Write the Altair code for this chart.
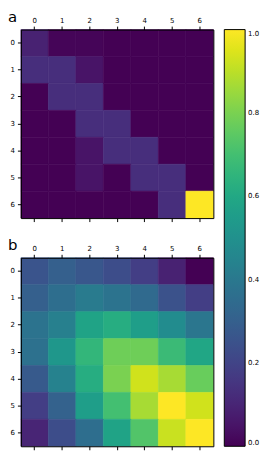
import altair as alt
import pandas as pd

rows = [0, 1, 2, 3, 4, 5, 6]
cols = [0, 1, 2, 3, 4, 5, 6]
colorbar_ticks = [0.0, 0.2, 0.4, 0.6, 0.8, 1.0]

panel_a = [
    [0.09, 0.01, 0.01, 0.00, 0.00, 0.00, 0.00],
    [0.13, 0.13, 0.05, 0.00, 0.00, 0.00, 0.00],
    [0.00, 0.13, 0.13, 0.00, 0.00, 0.00, 0.00],
    [0.00, 0.00, 0.13, 0.13, 0.00, 0.00, 0.00],
    [0.00, 0.00, 0.05, 0.13, 0.13, 0.00, 0.00],
    [0.00, 0.00, 0.05, 0.00, 0.13, 0.13, 0.00],
    [0.00, 0.00, 0.00, 0.00, 0.00, 0.13, 1.00],
]

panel_b = [
    [0.26, 0.30, 0.27, 0.23, 0.18, 0.09, 0.00],
    [0.30, 0.36, 0.41, 0.38, 0.34, 0.25, 0.18],
    [0.38, 0.43, 0.58, 0.62, 0.56, 0.48, 0.39],
    [0.37, 0.53, 0.66, 0.78, 0.78, 0.68, 0.59],
    [0.28, 0.44, 0.62, 0.80, 0.93, 0.87, 0.77],
    [0.18, 0.31, 0.56, 0.70, 0.87, 1.00, 0.93],
    [0.10, 0.23, 0.36, 0.58, 0.73, 0.92, 1.00],
]


def to_long(matrix):
    recs = []
    for r in rows:
        for c in cols:
            recs.append({"row": r, "col": c, "value": matrix[r][c]})
    return pd.DataFrame(recs)


FONT = "DejaVu Sans"
W, H = 194, 190


def heat(matrix, label):
    df = to_long(matrix)
    base = alt.Chart(df)
    main = base.mark_rect(strokeWidth=0.6).encode(
        x=alt.X("col:O", title=None,
                axis=alt.Axis(orient="top", labelAngle=0, zindex=1)),
        y=alt.Y("row:O", title=None,
                axis=alt.Axis(orient="left", zindex=1)),
        color=alt.Color(
            "value:Q", scale=alt.Scale(scheme="viridis", domain=[0, 1]),
            legend=alt.Legend(
                title=None, orient="none", legendX=205, legendY=0,
                direction="vertical", gradientLength=420, gradientThickness=21,
                gradientStrokeColor="black", gradientStrokeWidth=1,
                values=colorbar_ticks, format=".1f", labelFontSize=7,
                labelFont=FONT, labelColor="black", labelOffset=3,
                labelBaseline="middle", labelOverlap=False, padding=0,
            ),
        ),
        stroke=alt.Stroke("value:Q", scale=alt.Scale(scheme="viridis", domain=[0, 1]),
                          legend=None),
    )
    frame = base.mark_rect(opacity=0).encode(
        x=alt.X("col:O", title=None,
                axis=alt.Axis(orient="bottom", labels=False, zindex=1)),
        y=alt.Y("row:O", title=None,
                axis=alt.Axis(orient="right", labels=False, ticks=False, zindex=1)),
    )
    return (
        alt.layer(main, frame)
        .resolve_axis(x="independent", y="independent")
        .properties(
            width=W, height=H,
            title=alt.TitleParams(label, anchor="start", frame="bounds",
                                  fontSize=15, font=FONT, fontWeight="normal",
                                  offset=-9, dx=-2),
        )
    )


chart = (
    alt.vconcat(heat(panel_a, "a"), heat(panel_b, "b"), spacing=16)
    .resolve_scale(color="shared", stroke="independent")
    .resolve_legend(stroke="independent")
    .properties(padding=0)
    .configure_view(stroke=None)
    .configure_axis(
        labelFont=FONT, labelFontSize=7, labelColor="black",
        tickColor="black", tickSize=3.5, domainColor="black", domainWidth=1,
        labelPadding=3, grid=False,
    )
    .configure_scale(bandPaddingInner=0, bandPaddingOuter=0)
)

chart.save("out.html", embed_options={"renderer": "svg", "actions": False})
